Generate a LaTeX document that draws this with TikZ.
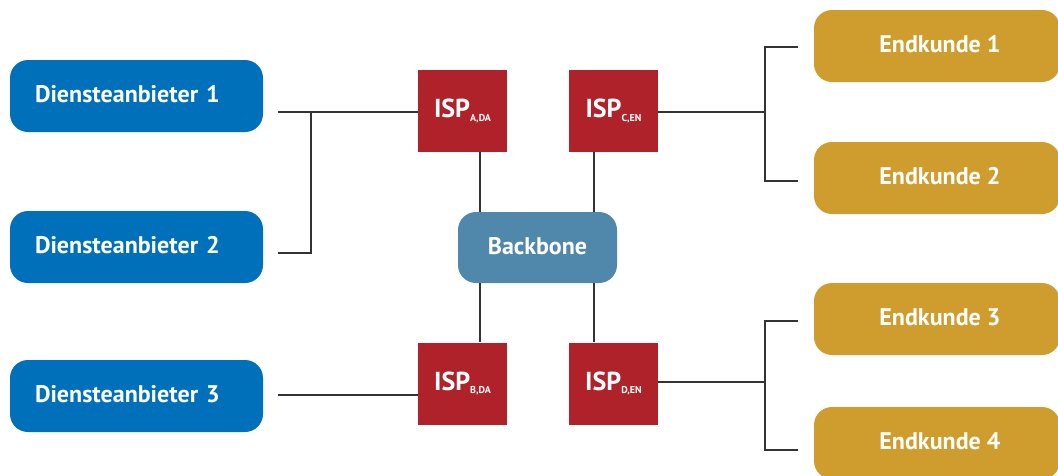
\documentclass[tikz,border=0pt]{standalone}
\usepackage{fontspec}
\setmainfont{PT Sans}
\usetikzlibrary{calc}
\definecolor{provblue}{HTML}{0070BA}
\definecolor{ispred}{HTML}{B0222A}
\definecolor{custgold}{HTML}{CF9C2E}
\definecolor{bbblue}{HTML}{4F88AA}
\begin{document}
\begin{tikzpicture}[x=1pt,y=-1pt,
  box/.style={rounded corners=18pt, minimum height=72pt, text=white,
    font=\bfseries\fontsize{24}{28}\selectfont, inner sep=0pt,
    text height=17pt, text depth=4pt},
  provider/.style={box, fill=provblue, text width=203pt, inner xsep=25pt, align=left},
  customer/.style={box, fill=custgold, minimum width=246pt},
  backbone/.style={box, fill=bbblue, minimum width=159pt, minimum height=71pt},
  isp/.style={fill=ispred, minimum width=89pt, minimum height=82pt, inner sep=0pt,
    text=white, font=\bfseries\fontsize{26}{30}\selectfont},
  link/.style={draw=black!80, line width=1.2pt}]
\useasboundingbox (0,0) rectangle (1058,475);
\newcommand{\isplabel}[1]{ISP\raisebox{-0.25ex}{\fontsize{10}{12}\selectfont #1}}

% service providers
\node[provider] (d1) at (136.5,96) {Diensteanbieter 1};
\node[provider] (d2) at (136.5,247) {Diensteanbieter 2};
\node[provider] (d3) at (136.5,396) {Diensteanbieter 3};

% ISPs
\node[isp] (ia) at (462.5,111) {\isplabel{A,DA}};
\node[isp] (ic) at (613.5,111) {\isplabel{C,EN}};
\node[isp] (ib) at (462.5,383.5) {\isplabel{B,DA}};
\node[isp] (id) at (613.5,383.5) {\isplabel{D,EN}};

% backbone
\node[backbone] (bb) at (537.5,247.5) {Backbone};

% end customers
\node[customer] (e1) at (937,46) {\hspace{6pt}Endkunde 1};
\node[customer] (e2) at (937,178) {\hspace{6pt}Endkunde 2};
\node[customer] (e3) at (937,319) {\hspace{6pt}Endkunde 3};
\node[customer] (e4) at (937,443) {\hspace{6pt}Endkunde 4};

% junction points
\coordinate (jl) at (311,112);
\coordinate (jr1) at (765,112);
\coordinate (jr2) at (765,382);

% providers to ISP A
\draw[link] ($(d1.east)+(15,16)$) -- (ia.west |- 0,112);
\draw[link] (jl) |- ($(d2.east)+(15,6)$);
% provider 3 to ISP B
\draw[link] ($(d3.east)+(15,-1)$) -- (ib.west |- 0,395);

% ISPs to backbone
\draw[link] (ia.south -| 480,0) -- (bb.north -| 480,0);
\draw[link] (ic.south -| 594,0) -- (bb.north -| 594,0);
\draw[link] (bb.south -| 480,0) -- (ib.north -| 480,0);
\draw[link] (bb.south -| 594,0) -- (id.north -| 594,0);

% ISP C to customers 1 and 2
\draw[link] (ic.east |- jr1) -- (jr1);
\draw[link] ($(e1.west)+(-16,1)$) -| (765,47) -- (765,181) -- ($(e2.west)+(-16,3)$);
% ISP D to customers 3 and 4
\draw[link] (id.east |- jr2) -- (jr2);
\draw[link] ($(e3.west)+(-16,2)$) -| (765,321) -- (765,450) -- ($(e4.west)+(-16,7)$);
\end{tikzpicture}
\end{document}
